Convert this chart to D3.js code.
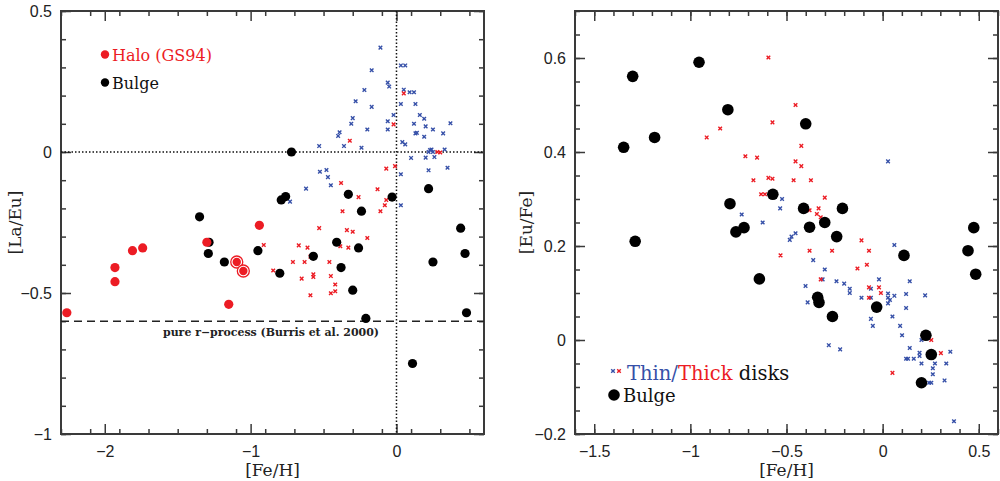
<!DOCTYPE html>
<html>
<head>
<meta charset="utf-8">
<script src="https://cdn.jsdelivr.net/npm/d3@7"></script>
<style>
body { margin: 0; background: #fff; }
svg text { font-family: "Liberation Sans", Arial, sans-serif; }
.serif { font-family: "DejaVu Serif", "Liberation Serif", serif; }
</style>
</head>
<body>
<svg id="chart" width="1000" height="481"></svg>
<script>
// values, pairs are [Fe/H, value]

// left panel : [La/Eu]
var haloLaEu = [[-2.26, -0.57], [-1.93, -0.41], [-1.93, -0.46], [-1.81, -0.35], [-1.74, -0.34],
  [-1.30, -0.32], [-1.15, -0.54], [-0.94, -0.26]];
var haloRingedLaEu = [[-1.095, -0.39], [-1.05, -0.422]];
var bulgeLaEu = [[-1.35, -0.23], [-1.285, -0.32], [-1.29, -0.36], [-1.18, -0.39], [-0.95, -0.35],
  [-0.80, -0.43], [-0.79, -0.17], [-0.76, -0.158], [-0.72, 0.0], [-0.57, -0.37], [-0.41, -0.32],
  [-0.38, -0.41], [-0.33, -0.15], [-0.30, -0.49], [-0.26, -0.34], [-0.24, -0.21], [-0.21, -0.59],
  [-0.03, -0.16], [0.11, -0.75], [0.22, -0.13], [0.25, -0.39], [0.44, -0.27], [0.47, -0.36], [0.48, -0.57]];
var thinLaEu = [[-0.11, 0.37], [-0.17, 0.29], [-0.22, 0.22], [-0.28, 0.18], [-0.17, 0.16], [-0.30, 0.12],
  [-0.31, 0.10], [-0.39, 0.07], [-0.40, 0.057], [-0.20, 0.08], [-0.36, 0.021], [-0.24, 0.015], [-0.53, 0.021],
  [-0.06, 0.246], [-0.05, 0.232], [-0.06, 0.109], [-0.06, 0.08], [-0.02, 0.131], [0.03, 0.307], [0.06, 0.307],
  [0.05, 0.221], [0.09, 0.212], [0.12, 0.212], [0.03, 0.17], [0.13, 0.17], [0.16, 0.131], [0.19, 0.118],
  [0.12, 0.10], [0.20, 0.091], [0.13, 0.066], [0.14, 0.068], [0.19, 0.054], [0.25, 0.08], [0.32, 0.066],
  [0.37, 0.102], [0.04, 0.035], [0.06, 0.027], [0.23, 0.007], [0.24, 0.009], [0.22, 0.0], [0.25, 0.0],
  [0.33, 0.009], [0.26, -0.018], [0.20, -0.02], [0.10, -0.021], [0.35, -0.056], [0.22, -0.065],
  [-0.525, -0.07], [-0.48, -0.064], [-0.47, -0.089], [-0.45, -0.118], [-0.62, -0.13], [-0.73, -0.176],
  [0.03, -0.079], [0.03, -0.189]];
var thickLaEu = [[0.05, 0.208], [-0.02, 0.098], [-0.32, 0.04], [0.28, 0.0], [0.30, -0.002], [-0.01, -0.05],
  [-0.07, -0.059], [-0.13, -0.132], [-0.07, -0.17], [-0.08, -0.189], [-0.11, -0.21], [-0.38, -0.11],
  [-0.26, -0.16], [-0.37, -0.21], [-0.53, -0.27], [-0.34, -0.277], [-0.30, -0.283], [-0.20, -0.305],
  [-0.385, -0.334], [-0.33, -0.339], [-0.67, -0.331], [-0.61, -0.339], [-0.91, -0.33], [-0.71, -0.39],
  [-0.63, -0.39], [-0.46, -0.39], [-0.59, -0.371], [-0.845, -0.42], [-0.65, -0.449], [-0.57, -0.434],
  [-0.57, -0.443], [-0.45, -0.44], [-0.42, -0.47], [-0.42, -0.494], [-0.45, -0.501], [-0.59, -0.508]];
var rProcessLevel = -0.6;

// right panel : [Eu/Fe]
var bulgeEuFe = [[-1.30, 0.561], [-0.955, 0.591], [-1.347, 0.41], [-1.186, 0.431], [-1.287, 0.21],
  [-0.805, 0.49], [-0.40, 0.46], [-0.794, 0.29], [-0.763, 0.23], [-0.721, 0.239], [-0.641, 0.13],
  [-0.571, 0.31], [-0.411, 0.28], [-0.38, 0.24], [-0.301, 0.25], [-0.209, 0.28], [-0.239, 0.22],
  [-0.338, 0.091], [-0.331, 0.08], [-0.261, 0.05], [-0.031, 0.07], [0.111, 0.18], [0.225, 0.01],
  [0.253, -0.031], [0.202, -0.091], [0.444, 0.19], [0.474, 0.239], [0.484, 0.14]];
var thickEuFe = [[-0.594, 0.601], [-0.453, 0.50], [-0.573, 0.463], [-0.845, 0.45], [-0.915, 0.431],
  [-0.423, 0.413], [-0.453, 0.38], [-0.423, 0.37], [-0.714, 0.391], [-0.653, 0.388], [-0.672, 0.34],
  [-0.594, 0.345], [-0.573, 0.343], [-0.463, 0.34], [-0.373, 0.34], [-0.632, 0.31], [-0.612, 0.31],
  [-0.301, 0.303], [-0.333, 0.28], [-0.38, 0.276], [-0.342, 0.268], [-0.322, 0.261], [-0.11, 0.212],
  [-0.38, 0.19], [-0.263, 0.19], [-0.071, 0.19], [-0.531, 0.18], [-0.131, 0.152], [-0.082, 0.16],
  [-0.322, 0.129], [-0.071, 0.112], [-0.009, 0.10], [-0.071, 0.09], [-0.019, 0.112], [0.253, 0.0],
  [0.303, -0.028], [0.051, -0.07]];
var thinEuFe = [[0.028, 0.38], [0.061, 0.202], [-0.523, 0.30], [-0.533, 0.28], [-0.733, 0.267],
  [-0.624, 0.25], [-0.453, 0.227], [-0.474, 0.22], [-0.483, 0.213], [-0.361, 0.17], [-0.301, 0.15],
  [-0.312, 0.129], [-0.401, 0.115], [-0.24, 0.125], [-0.20, 0.12], [-0.171, 0.109], [-0.171, 0.10],
  [-0.11, 0.09], [-0.061, 0.109], [-0.019, 0.129], [-0.061, 0.09], [-0.061, 0.045], [-0.051, 0.03],
  [-0.39, 0.08], [0.028, 0.099], [0.028, 0.09], [0.038, 0.085], [0.061, 0.094], [0.028, 0.078],
  [0.051, 0.05], [0.122, 0.098], [0.122, 0.068], [0.141, 0.125], [0.221, 0.095], [0.091, 0.03],
  [0.101, 0.01], [0.141, -0.017], [0.122, -0.04], [0.132, -0.04], [0.162, -0.04], [0.192, -0.027],
  [0.192, -0.034], [0.202, -0.05], [0.202, 0.0], [0.261, -0.06], [0.272, -0.05], [0.261, -0.073],
  [0.253, -0.091], [0.242, -0.091], [0.322, -0.086], [0.331, -0.05], [0.352, -0.025], [-0.28, -0.011],
  [-0.221, -0.02], [0.371, -0.173]];

var leftXTicks = [-2, -1, 0], leftYTicks = [-1, -0.5, 0, 0.5];
var rightXTicks = [-1.5, -1, -0.5, 0, 0.5], rightYTicks = [-0.2, 0, 0.2, 0.4, 0.6];

var RED = "#ec1c24", BLUE = "#3650a8", FRAME = "#3a3a3a";

var svg = d3.select("#chart");
var fmt = d3.format("~g");

function makePanel(opt) {
  var x = d3.scaleLinear().domain(opt.xDomain).range([opt.left, opt.right]);
  var y = d3.scaleLinear().domain(opt.yDomain).range([opt.bottom, opt.top]);
  var g = svg.append("g");
  var w = opt.right - opt.left, h = opt.bottom - opt.top;

  function ticksAll(vals, minor, size) {
    // bottom, top, left, right : all pointing inward
    g.append("g").attr("transform", "translate(0," + opt.bottom + ")")
      .call(d3.axisBottom(x).tickValues(vals).tickSize(-size).tickSizeOuter(0)
        .tickFormat(minor ? "" : fmt).tickPadding(12));
    g.append("g").attr("transform", "translate(0," + opt.top + ")")
      .call(d3.axisTop(x).tickValues(vals).tickSize(-size).tickSizeOuter(0).tickFormat(""));
  }
  function yTicksAll(vals, minor, size) {
    g.append("g").attr("transform", "translate(" + opt.left + ",0)")
      .call(d3.axisLeft(y).tickValues(vals).tickSize(-size).tickSizeOuter(0)
        .tickFormat(minor ? "" : fmt).tickPadding(9));
    g.append("g").attr("transform", "translate(" + opt.right + ",0)")
      .call(d3.axisRight(y).tickValues(vals).tickSize(-size).tickSizeOuter(0).tickFormat(""));
  }
  ticksAll(d3.range(opt.xDomain[0], opt.xDomain[1] + 1e-9, opt.xMinor).map(function (d) { return +d.toFixed(3); }), true, 5);
  ticksAll(opt.xTicks, false, 10);
  yTicksAll(d3.range(opt.yDomain[0], opt.yDomain[1] + 1e-9, opt.yMinor).map(function (d) { return +d.toFixed(3); }), true, 5);
  yTicksAll(opt.yTicks, false, 10);

  g.selectAll(".domain").remove();
  g.selectAll(".tick line").attr("stroke", FRAME).attr("stroke-width", 1.5);
  g.selectAll(".tick text").attr("fill", "#222").style("font-size", "16px");

  g.append("rect").attr("x", opt.left).attr("y", opt.top).attr("width", w).attr("height", h)
    .attr("fill", "none").attr("stroke", FRAME).attr("stroke-width", 2);

  g.append("text").attr("class", "serif").attr("x", (opt.left + opt.right) / 2).attr("y", 476)
    .attr("text-anchor", "middle").style("font-size", "17px").attr("fill", "#222").text(opt.xTitle);
  g.append("text").attr("class", "serif")
    .attr("transform", "translate(" + opt.yTitleX + "," + ((opt.top + opt.bottom) / 2) + ") rotate(-90)")
    .attr("text-anchor", "middle").style("font-size", "17px").attr("fill", "#222").text(opt.yTitle);

  return { g: g, x: x, y: y };
}

function crosses(p, data, color) {
  p.g.append("g").selectAll("path").data(data).enter().append("path")
    .attr("transform", function (d) { return "translate(" + p.x(d[0]) + "," + p.y(d[1]) + ")"; })
    .attr("d", "M-1.8,-1.8L1.8,1.8M-1.8,1.8L1.8,-1.8")
    .attr("stroke", color).attr("stroke-width", 1.4).attr("fill", "none");
}

function dots(p, data, color, r) {
  p.g.append("g").selectAll("circle").data(data).enter().append("circle")
    .attr("cx", function (d) { return p.x(d[0]); })
    .attr("cy", function (d) { return p.y(d[1]); })
    .attr("r", r).attr("fill", color);
}

// ---- left panel
var L = makePanel({
  left: 61, right: 484, top: 11, bottom: 434,
  xDomain: [-2.3, 0.6], yDomain: [-1, 0.5], xMinor: 0.2, yMinor: 0.1,
  xTicks: leftXTicks, yTicks: leftYTicks,
  xTitle: "[Fe/H]", yTitle: "[La/Eu]", yTitleX: 21
});

// dotted zero lines
L.g.append("line").attr("x1", L.x(-2.3)).attr("x2", L.x(0.6)).attr("y1", L.y(0)).attr("y2", L.y(0))
  .attr("stroke", "#111").attr("stroke-width", 1.5).attr("stroke-dasharray", "1.5,2");
L.g.append("line").attr("x1", L.x(0)).attr("x2", L.x(0)).attr("y1", L.y(0.5)).attr("y2", L.y(-1))
  .attr("stroke", "#111").attr("stroke-width", 1.5).attr("stroke-dasharray", "1.5,2");
// pure r-process level
L.g.append("line").attr("x1", L.x(-2.3)).attr("x2", L.x(0.6)).attr("y1", L.y(rProcessLevel)).attr("y2", L.y(rProcessLevel))
  .attr("stroke", "#222").attr("stroke-width", 1.5).attr("stroke-dasharray", "8,5");
L.g.append("text").attr("class", "serif").attr("x", 163).attr("y", L.y(rProcessLevel) + 15)
  .attr("textLength", 216).attr("lengthAdjust", "spacingAndGlyphs")
  .style("font-size", "11px").style("font-weight", "bold")
  .attr("fill", "#222").text("pure r\u2212process (Burris et al. 2000)");

crosses(L, thinLaEu, BLUE);
crosses(L, thickLaEu, RED);
dots(L, bulgeLaEu, "#000", 4.6);
dots(L, haloLaEu, RED, 4.6);
L.g.append("g").selectAll("circle").data(haloRingedLaEu).enter().append("circle")
  .attr("cx", function (d) { return L.x(d[0]); }).attr("cy", function (d) { return L.y(d[1]); })
  .attr("r", 6).attr("fill", "#fff").attr("stroke", RED).attr("stroke-width", 1.3);
dots(L, haloRingedLaEu, RED, 4.2);

// legend
L.g.append("circle").attr("cx", 105).attr("cy", 54.5).attr("r", 4.2).attr("fill", RED);
L.g.append("text").attr("class", "serif").attr("x", 112).attr("y", 60.5).style("font-size", "16px")
  .attr("fill", RED).text("Halo (GS94)");
L.g.append("circle").attr("cx", 105).attr("cy", 82.5).attr("r", 4.2).attr("fill", "#000");
L.g.append("text").attr("class", "serif").attr("x", 112).attr("y", 88.5).style("font-size", "16px")
  .attr("fill", "#111").text("Bulge");

// ---- right panel
var R = makePanel({
  left: 575, right: 998, top: 11, bottom: 434,
  xDomain: [-1.6, 0.6], yDomain: [-0.2, 0.7], xMinor: 0.1, yMinor: 0.05,
  xTicks: rightXTicks, yTicks: rightYTicks,
  xTitle: "[Fe/H]", yTitle: "[Eu/Fe]", yTitleX: 532
});

crosses(R, thinEuFe, BLUE);
crosses(R, thickEuFe, RED);
dots(R, bulgeEuFe, "#000", 5.8);

// legend
R.g.append("path").attr("transform", "translate(613,371)").attr("d", "M-1.8,-1.8L1.8,1.8M-1.8,1.8L1.8,-1.8")
  .attr("stroke", BLUE).attr("stroke-width", 1.4);
R.g.append("path").attr("transform", "translate(619,371)").attr("d", "M-1.8,-1.8L1.8,1.8M-1.8,1.8L1.8,-1.8")
  .attr("stroke", RED).attr("stroke-width", 1.4);
var lt = R.g.append("text").attr("class", "serif").attr("x", 627).attr("y", 380).style("font-size", "19.5px");
lt.append("tspan").attr("fill", BLUE).text("Thin/");
lt.append("tspan").attr("fill", RED).text("Thick");
lt.append("tspan").attr("fill", "#111").text(" disks");
R.g.append("circle").attr("cx", 614).attr("cy", 395).attr("r", 5.8).attr("fill", "#000");
R.g.append("text").attr("class", "serif").attr("x", 623).attr("y", 402).style("font-size", "18px")
  .attr("fill", "#111").text("Bulge");
</script>
</body>
</html>
